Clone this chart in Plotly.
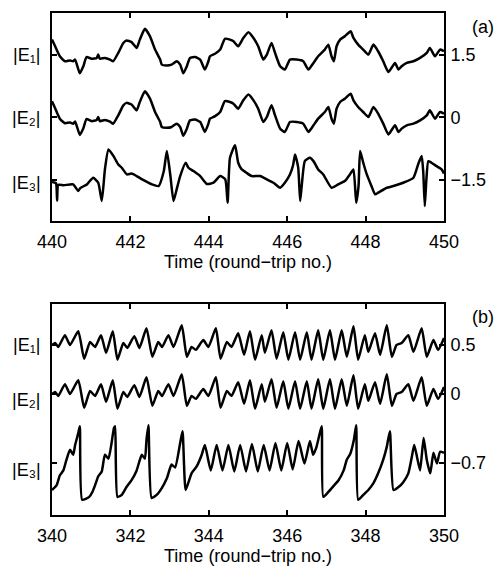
import plotly.graph_objects as go

# ---------------- panel (a) ----------------
a_t = [440.00, 440.08, 440.20, 440.33, 440.46, 440.54, 440.59, 440.71, 440.80, 440.88,
       441.01, 441.14, 441.18, 441.22, 441.35, 441.48, 441.56, 441.69, 441.82, 441.90,
       442.03, 442.16, 442.24, 442.37, 442.50, 442.63, 442.76, 442.80, 442.93, 443.05,
       443.18, 443.27, 443.35, 443.44, 443.52, 443.65, 443.78, 443.90, 443.99, 444.03,
       444.16, 444.29, 444.41, 444.54, 444.63, 444.75, 444.88, 445.01, 445.14, 445.26,
       445.39, 445.48, 445.60, 445.69, 445.82, 445.94, 446.07, 446.24, 446.41, 446.54,
       446.67, 446.79, 446.96, 447.05, 447.13, 447.19, 447.26, 447.35, 447.47, 447.56,
       447.62, 447.69, 447.81, 447.94, 448.07, 448.20, 448.32, 448.45, 448.58, 448.66,
       448.75, 448.84, 448.92, 449.05, 449.22, 449.39, 449.56, 449.64, 449.77, 449.90,
       450.00]
a_E1 = [1.87, 1.71, 1.47, 1.35, 1.37, 1.35, 1.39, 1.06, 1.23, 1.45,
        1.41, 1.43, 1.51, 1.41, 1.43, 1.39, 1.35, 1.55, 1.79, 1.85,
        1.81, 1.67, 1.87, 2.13, 1.95, 1.63, 1.39, 1.27, 1.25, 1.27,
        1.35, 1.27, 1.06, 1.23, 1.43, 1.45, 1.39, 1.15, 1.35, 1.47,
        1.53, 1.63, 1.89, 1.87, 1.83, 1.71, 1.91, 2.05, 1.91, 1.71,
        1.39, 1.51, 1.79, 1.55, 1.23, 1.15, 1.39, 1.39, 1.35, 1.15,
        1.31, 1.47, 1.63, 1.75, 1.47, 1.35, 1.71, 1.87, 1.95, 2.03,
        2.07, 1.91, 1.75, 1.63, 1.51, 1.75, 1.59, 1.35, 1.09, 1.19,
        1.31, 1.15, 1.23, 1.31, 1.35, 1.43, 1.55, 1.67, 1.47, 1.63,
        1.59]
a_E2 = [0.39, 0.22, -0.03, -0.14, -0.12, -0.15, -0.10, -0.42, -0.26, -0.04,
        -0.09, -0.06, 0.01, -0.09, -0.06, -0.10, -0.15, 0.05, 0.29, 0.35,
        0.31, 0.17, 0.37, 0.63, 0.45, 0.13, -0.11, -0.23, -0.25, -0.23,
        -0.15, -0.23, -0.44, -0.27, -0.07, -0.05, -0.11, -0.35, -0.15, -0.03,
        0.03, 0.13, 0.39, 0.37, 0.33, 0.21, 0.41, 0.55, 0.41, 0.21,
        -0.11, 0.01, 0.29, 0.05, -0.27, -0.35, -0.11, -0.11, -0.15, -0.35,
        -0.19, -0.03, 0.13, 0.25, -0.03, -0.15, 0.21, 0.37, 0.45, 0.53,
        0.57, 0.41, 0.25, 0.13, 0.01, 0.25, 0.09, -0.15, -0.41, -0.31,
        -0.19, -0.35, -0.27, -0.19, -0.15, -0.07, 0.05, 0.17, -0.03, 0.13,
        0.09]

a_t3 = [440.00, 440.10, 440.13, 440.16, 440.30, 440.54, 440.67, 440.72, 440.89, 441.05,
        441.18, 441.27, 441.35, 441.44, 441.57, 441.69, 441.78, 441.91, 442.03, 442.16,
        442.30, 442.55, 442.72, 442.85, 442.93, 443.02, 443.10, 443.18, 443.27, 443.41,
        443.48, 443.61, 443.78, 443.95, 444.12, 444.29, 444.42, 444.48, 444.54, 444.67,
        444.75, 444.84, 444.96, 445.09, 445.31, 445.48, 445.65, 445.82, 445.94, 446.07,
        446.15, 446.20, 446.28, 446.33, 446.37, 446.45, 446.58, 446.67, 446.79, 446.92,
        447.13, 447.30, 447.47, 447.60, 447.69, 447.76, 447.82, 447.86, 447.94, 448.03,
        448.15, 448.24, 448.32, 448.54, 448.71, 448.96, 449.22, 449.35, 449.43, 449.47,
        449.51, 449.55, 449.60, 449.68, 449.81, 449.94, 450.00]
a_E3 = [-1.55, -1.58, -2.00, -1.62, -1.63, -1.61, -1.77, -1.70, -1.61, -1.45,
        -1.57, -2.01, -1.25, -0.77, -0.93, -1.13, -1.21, -1.37, -1.35, -1.41,
        -1.49, -1.61, -1.65, -1.30, -0.81, -1.40, -2.01, -1.73, -1.41, -1.09,
        -1.21, -1.29, -1.41, -1.60, -1.57, -1.41, -1.49, -2.05, -0.97, -0.67,
        -1.09, -1.25, -1.33, -1.41, -1.41, -1.49, -1.57, -1.69, -1.57, -1.37,
        -1.15, -0.89, -1.20, -2.01, -1.65, -1.05, -0.97, -1.05, -1.25, -1.37,
        -1.69, -1.61, -1.53, -1.37, -1.25, -2.05, -1.65, -0.81, -1.09, -1.37,
        -1.65, -1.85, -1.81, -1.69, -1.65, -1.57, -1.45, -1.10, -0.93, -1.30,
        -2.13, -1.50, -1.05, -1.09, -1.17, -1.25, -1.35]

# ---------------- panel (b) ----------------
b_t = [340.00, 340.08, 340.16, 340.33, 340.46, 340.67, 340.82, 340.97, 341.10, 341.25,
       341.38, 341.55, 341.67, 341.82, 341.92, 342.10, 342.23, 342.41, 342.56, 342.71,
       342.81, 342.97, 343.10, 343.31, 343.44, 343.56, 343.67, 343.86, 343.99, 344.18,
       344.30, 344.46, 344.58, 344.75, 344.90, 345.05, 345.18, 345.35, 345.43, 345.60,
       345.73, 345.90, 346.03, 346.20, 346.33, 346.50, 346.62, 346.79, 346.92, 347.09,
       347.22, 347.39, 347.52, 347.69, 347.81, 347.98, 348.07, 348.24, 348.37, 348.54,
       348.67, 348.79, 348.92, 349.09, 349.22, 349.43, 349.56, 349.73, 349.85, 350.00]
b_E1 = [0.50, 0.52, 0.48, 0.60, 0.50, 0.64, 0.36, 0.53, 0.48, 0.60,
        0.42, 0.64, 0.35, 0.52, 0.47, 0.59, 0.47, 0.67, 0.38, 0.53,
        0.48, 0.60, 0.48, 0.70, 0.38, 0.48, 0.45, 0.55, 0.48, 0.67,
        0.36, 0.53, 0.48, 0.62, 0.40, 0.64, 0.35, 0.60, 0.42, 0.65,
        0.36, 0.63, 0.35, 0.63, 0.35, 0.63, 0.35, 0.65, 0.35, 0.65,
        0.35, 0.65, 0.38, 0.69, 0.35, 0.60, 0.43, 0.62, 0.40, 0.70,
        0.38, 0.50, 0.52, 0.60, 0.43, 0.67, 0.38, 0.55, 0.45, 0.57]
b_E2 = [0.00, 0.02, -0.02, 0.10, 0.00, 0.14, -0.14, 0.03, -0.02, 0.10,
        -0.08, 0.14, -0.15, 0.02, -0.03, 0.09, -0.03, 0.17, -0.12, 0.03,
        -0.02, 0.10, -0.02, 0.20, -0.12, -0.02, -0.05, 0.05, -0.02, 0.17,
        -0.14, 0.03, -0.02, 0.12, -0.10, 0.14, -0.15, 0.10, -0.08, 0.15,
        -0.14, 0.13, -0.15, 0.13, -0.15, 0.13, -0.15, 0.15, -0.15, 0.15,
        -0.15, 0.15, -0.12, 0.19, -0.15, 0.10, -0.07, 0.12, -0.10, 0.20,
        -0.12, 0.00, 0.02, 0.10, -0.07, 0.17, -0.12, 0.05, -0.05, 0.07]

b_t3 = [340.00, 340.12, 340.20, 340.29, 340.37, 340.46, 340.54, 340.59, 340.67, 340.71,
        340.77, 340.95, 341.03, 341.10, 341.18, 341.27, 341.35, 341.44, 341.52, 341.58,
        341.61, 341.67, 341.78, 341.90, 342.03, 342.16, 342.29, 342.37, 342.41, 342.46,
        342.54, 342.67, 342.80, 342.93, 343.05, 343.14, 343.27, 343.33, 343.41, 343.56,
        343.69, 343.82, 343.90, 344.05, 344.20, 344.35, 344.50, 344.65, 344.80, 344.95,
        345.10, 345.25, 345.40, 345.55, 345.70, 345.85, 346.00, 346.14, 346.29, 346.44,
        346.58, 346.66, 346.74, 346.82, 346.88, 346.92, 347.05, 347.18, 347.31,
        347.44, 347.52, 347.61, 347.70, 347.76, 347.81, 347.94, 348.07, 348.20, 348.32,
        348.45, 348.54, 348.62, 348.71, 348.84, 348.96, 349.09, 349.18, 349.24, 349.31,
        349.39, 349.48, 349.56, 349.65, 349.73, 349.82, 349.90, 350.00]
b_E3 = [-0.98, -0.93, -0.83, -0.78, -0.67, -0.57, -0.62, -0.52, -0.40, -0.33,
        -1.08, -1.05, -1.00, -0.93, -0.84, -0.79, -0.62, -0.66, -0.50, -0.35,
        -0.33, -1.05, -1.03, -0.95, -0.88, -0.78, -0.62, -0.66, -0.47, -0.32,
        -1.06, -1.03, -0.96, -0.86, -0.72, -0.75, -0.50, -0.38, -0.98, -0.81,
        -0.74, -0.62, -0.52, -0.78, -0.52, -0.78, -0.52, -0.79, -0.52, -0.79,
        -0.51, -0.79, -0.52, -0.78, -0.50, -0.78, -0.50, -0.77, -0.48, -0.71,
        -0.48, -0.62, -0.55, -0.42, -0.33, -1.05, -1.00, -0.94, -0.88,
        -0.78, -0.67, -0.61, -0.47, -0.32, -1.08, -1.03, -0.98, -0.91, -0.81,
        -0.67, -0.54, -0.38, -0.98, -0.95, -0.90, -0.81, -0.64, -0.52, -0.64,
        -0.78, -0.45, -0.67, -0.81, -0.60, -0.71, -0.59, -0.60]

a_ticks = [440, 442, 444, 446, 448, 450]
b_ticks = [340, 342, 344, 346, 348, 350]
a_yticks = [1.5, 0, -1.5]
a_ylabels = ["1.5", "0", "−1.5"]
b_yticks = [0.5, 0, -0.7]
b_ylabels = ["0.5", "0", "−0.7"]
trace_names = ["|E₁|", "|E₂|", "|E₃|"]

# page body adds an 8px margin; the figure is sized so page = 503 x 568
OFF = 8
W, H = 503 - OFF, 568 - OFF
def px(x):
    return (x - OFF) / W
def py(y):
    return 1 - (y - OFF) / H

FONT = "Liberation Sans, Arial, Helvetica, sans-serif"
FS = 18
line = dict(color="black", width=2.5, shape="spline", smoothing=0.5)

fig = go.Figure()
for tt, vv in [(a_t, a_E1), (a_t, a_E2), (a_t3, a_E3)]:
    fig.add_trace(go.Scatter(x=tt, y=vv, mode="lines", line=line, xaxis="x", yaxis="y", showlegend=False))
for tt, vv in [(b_t, b_E1), (b_t, b_E2), (b_t3, b_E3)]:
    fig.add_trace(go.Scatter(x=tt, y=vv, mode="lines", line=line, xaxis="x2", yaxis="y2", showlegend=False))

xdom = [px(52), px(444)]
ax_common = dict(showline=True, linecolor="black", linewidth=2, mirror="ticks",
                 ticks="inside", ticklen=5, tickwidth=1.5, tickcolor="black",
                 showgrid=False, zeroline=False, automargin=False,
                 tickfont=dict(family=FONT, size=FS, color="black"))

fig.update_layout(
    width=W, height=H, margin=dict(l=0, r=0, t=0, b=0),
    paper_bgcolor="white", plot_bgcolor="white",
    font=dict(family=FONT, size=FS, color="black"),
    xaxis=dict(domain=xdom, anchor="y", range=[440, 450], tickvals=a_ticks, ticklabelstandoff=3,
               title=dict(text="Time (round−trip no.)", standoff=3, font=dict(size=FS)), **ax_common),
    yaxis=dict(domain=[py(221), py(13)], anchor="x", side="right", range=[-2.49, 2.51],
               tickvals=a_yticks, ticktext=a_ylabels, ticklabelstandoff=1, **ax_common),
    xaxis2=dict(domain=xdom, anchor="y2", range=[340, 350], tickvals=b_ticks, ticklabelstandoff=3,
                title=dict(text="Time (round−trip no.)", standoff=3, font=dict(size=FS)), **ax_common),
    yaxis2=dict(domain=[py(515), py(304)], anchor="x2", side="right", range=[-1.235, 0.918],
                tickvals=b_yticks, ticktext=b_ylabels, ticklabelstandoff=1, **ax_common),
)

label_y = [55, 118, 183, 345, 400, 470]
for i, yy in enumerate(label_y):
    fig.add_annotation(text=trace_names[i % 3], x=px(26), y=py(yy), xref="paper", yref="paper",
                       xanchor="center", yanchor="middle",
                       showarrow=False, font=dict(family=FONT, size=FS, color="black"))
fig.add_annotation(text="(a)", x=px(483), y=py(27), xref="paper", yref="paper",
                   xanchor="center", yanchor="middle",
                   showarrow=False, font=dict(family=FONT, size=FS, color="black"))
fig.add_annotation(text="(b)", x=px(483), y=py(317), xref="paper", yref="paper",
                   xanchor="center", yanchor="middle",
                   showarrow=False, font=dict(family=FONT, size=FS, color="black"))

fig.write_html("out.html")
